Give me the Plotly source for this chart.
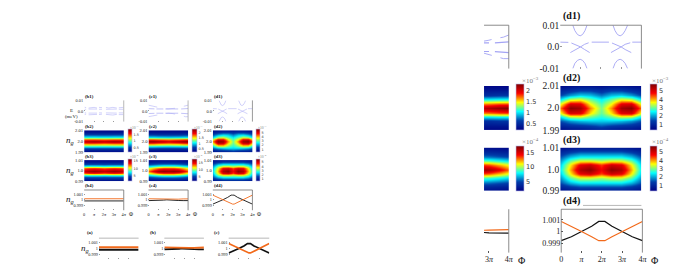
import plotly.graph_objects as go

W, H = 685, 274
SERIF = "Liberation Serif"
SANS = "DejaVu Sans"
GRAY = "#6e6e6e"
BLUE = "#a4a4f4"
ORANGE = "#f26a1b"

# ---- data: x in units of pi ------------------------------------------------
phi_grid = [0, 0.5, 1, 1.5, 2, 2.5, 3, 3.5, 4]
g_2 = [1.99, 1.992, 1.994, 1.996, 1.998, 2.0, 2.002, 2.004, 2.006, 2.008, 2.01]
g_1 = [0.99, 0.992, 0.994, 0.996, 0.998, 1.0, 1.002, 1.004, 1.006, 1.008, 1.01]

z_b2 = [
    [0.15, 0.15, 0.15, 0.15, 0.15, 0.15, 0.15, 0.15, 0.15],
    [0.25, 0.25, 0.25, 0.25, 0.25, 0.25, 0.25, 0.25, 0.25],
    [0.45, 0.45, 0.45, 0.44, 0.44, 0.44, 0.45, 0.45, 0.45],
    [0.85, 0.85, 0.85, 0.84, 0.84, 0.84, 0.85, 0.85, 0.85],
    [1.40, 1.42, 1.42, 1.40, 1.38, 1.40, 1.42, 1.42, 1.40],
    [1.72, 1.76, 1.80, 1.76, 1.72, 1.76, 1.80, 1.76, 1.72],
    [1.40, 1.42, 1.42, 1.40, 1.38, 1.40, 1.42, 1.42, 1.40],
    [0.85, 0.85, 0.85, 0.84, 0.84, 0.84, 0.85, 0.85, 0.85],
    [0.45, 0.45, 0.45, 0.44, 0.44, 0.44, 0.45, 0.45, 0.45],
    [0.25, 0.25, 0.25, 0.25, 0.25, 0.25, 0.25, 0.25, 0.25],
    [0.15, 0.15, 0.15, 0.15, 0.15, 0.15, 0.15, 0.15, 0.15],
]
z_c2 = [
    [0.25, 0.25, 0.25, 0.25, 0.25, 0.25, 0.25, 0.25, 0.25],
    [0.35, 0.35, 0.35, 0.35, 0.35, 0.35, 0.35, 0.35, 0.35],
    [0.55, 0.55, 0.52, 0.52, 0.52, 0.52, 0.52, 0.55, 0.55],
    [1.00, 1.00, 0.98, 0.97, 0.96, 0.97, 0.98, 1.00, 1.00],
    [1.75, 1.74, 1.68, 1.65, 1.62, 1.65, 1.68, 1.74, 1.76],
    [2.20, 2.20, 2.12, 2.06, 2.00, 2.06, 2.12, 2.20, 2.25],
    [1.75, 1.74, 1.68, 1.65, 1.62, 1.65, 1.68, 1.74, 1.76],
    [1.00, 1.00, 0.98, 0.97, 0.96, 0.97, 0.98, 1.00, 1.00],
    [0.55, 0.55, 0.52, 0.52, 0.52, 0.52, 0.52, 0.55, 0.55],
    [0.35, 0.35, 0.35, 0.35, 0.35, 0.35, 0.35, 0.35, 0.35],
    [0.25, 0.25, 0.25, 0.25, 0.25, 0.25, 0.25, 0.25, 0.25],
]
z_d2 = [
    [0.5, 0.6, 0.6, 0.7, 0.8, 0.7, 0.6, 0.6, 0.5],
    [0.9, 1.1, 1.2, 1.3, 1.5, 1.3, 1.2, 1.1, 0.9],
    [1.5, 1.9, 2.1, 2.2, 2.2, 2.2, 2.1, 1.9, 1.5],
    [2.3, 3.2, 3.3, 2.9, 2.6, 2.9, 3.3, 3.2, 2.3],
    [3.5, 5.0, 4.9, 3.7, 2.9, 3.7, 4.9, 5.0, 3.5],
    [4.2, 5.7, 5.5, 4.1, 3.0, 4.1, 5.5, 5.7, 4.2],
    [3.5, 5.0, 4.9, 3.6, 2.8, 3.6, 4.9, 5.0, 3.5],
    [2.3, 3.2, 3.4, 2.9, 2.4, 2.9, 3.4, 3.2, 2.3],
    [1.4, 1.9, 2.2, 2.1, 1.7, 2.1, 2.2, 1.9, 1.4],
    [0.9, 1.1, 1.3, 1.3, 1.1, 1.3, 1.3, 1.1, 0.9],
    [0.5, 0.6, 0.7, 0.7, 0.6, 0.7, 0.7, 0.6, 0.5],
]
z_b3 = [
    [2.0, 2.0, 2.0, 2.0, 2.0, 2.0, 2.0, 2.0, 2.0],
    [3.0, 3.0, 3.0, 3.0, 3.0, 3.0, 3.0, 3.0, 3.0],
    [4.5, 4.6, 4.6, 4.6, 4.5, 4.6, 4.6, 4.6, 4.5],
    [7.5, 7.8, 7.8, 7.7, 7.5, 7.7, 7.8, 7.8, 7.5],
    [12.0, 12.6, 12.8, 12.6, 12.2, 12.6, 12.8, 12.6, 12.0],
    [14.2, 15.0, 15.4, 15.0, 14.6, 15.0, 15.4, 15.0, 14.2],
    [12.0, 12.6, 12.8, 12.6, 12.2, 12.6, 12.8, 12.6, 12.0],
    [7.5, 7.8, 7.8, 7.7, 7.5, 7.7, 7.8, 7.8, 7.5],
    [4.5, 4.6, 4.6, 4.6, 4.5, 4.6, 4.6, 4.6, 4.5],
    [3.0, 3.0, 3.0, 3.0, 3.0, 3.0, 3.0, 3.0, 3.0],
    [2.0, 2.0, 2.0, 2.0, 2.0, 2.0, 2.0, 2.0, 2.0],
]
z_c3 = [
    [2.2, 2.3, 2.4, 2.5, 2.5, 2.5, 2.4, 2.3, 2.2],
    [3.2, 3.4, 3.6, 3.7, 3.7, 3.7, 3.6, 3.4, 3.2],
    [4.8, 5.2, 5.6, 5.8, 5.8, 5.8, 5.6, 5.2, 4.8],
    [7.5, 8.2, 8.8, 9.2, 9.2, 9.2, 8.8, 8.2, 7.5],
    [10.8, 12.0, 13.2, 13.8, 13.8, 13.8, 13.2, 12.0, 10.8],
    [13.0, 15.0, 16.5, 17.0, 16.6, 17.0, 16.5, 15.0, 13.0],
    [10.8, 12.0, 13.2, 13.8, 13.8, 13.8, 13.2, 12.0, 10.8],
    [7.5, 8.2, 8.8, 9.2, 9.2, 9.2, 8.8, 8.2, 7.5],
    [4.8, 5.2, 5.6, 5.8, 5.8, 5.8, 5.6, 5.2, 4.8],
    [3.2, 3.4, 3.6, 3.7, 3.7, 3.7, 3.6, 3.4, 3.2],
    [2.2, 2.3, 2.4, 2.5, 2.5, 2.5, 2.4, 2.3, 2.2],
]
z_d3 = [
    [0.6, 0.7, 0.8, 0.8, 0.8, 0.8, 0.8, 0.7, 0.6],
    [1.0, 1.3, 1.5, 1.5, 1.5, 1.5, 1.5, 1.3, 1.0],
    [1.5, 2.1, 2.4, 2.4, 2.4, 2.4, 2.4, 2.1, 1.5],
    [1.9, 2.9, 3.4, 3.4, 3.2, 3.4, 3.4, 2.9, 1.9],
    [2.2, 3.6, 4.8, 5.0, 4.4, 5.0, 4.8, 3.6, 2.2],
    [2.4, 3.9, 5.3, 5.6, 4.7, 5.6, 5.3, 3.9, 2.4],
    [2.2, 3.6, 4.8, 5.0, 4.4, 5.0, 4.8, 3.6, 2.2],
    [1.9, 2.9, 3.4, 3.4, 3.2, 3.4, 3.4, 2.9, 1.9],
    [1.5, 2.1, 2.4, 2.4, 2.4, 2.4, 2.4, 2.1, 1.5],
    [1.0, 1.3, 1.5, 1.5, 1.5, 1.5, 1.5, 1.3, 1.0],
    [0.6, 0.7, 0.8, 0.8, 0.8, 0.8, 0.8, 0.7, 0.6],
]

# spectra (phi/pi, E); None separates pieces
b1_phi = [0.05, 0.2, None, 0.45, 0.8, 1.0, 1.3, None, 1.5, 1.8, None, 2.2, 2.5, 2.9, 3.3, None, 3.5, 3.95]
b1_up = [0.0035, 0.0032, None, 0.0028, 0.0033, 0.0034, 0.0028, None, 0.0034, 0.0032, None, 0.0033, 0.0028, 0.0034, 0.0028, None, 0.003, 0.0034]
b1_in = [0.0016, 0.0016, None, 0.0018, 0.0018, 0.0016, 0.0018, None, 0.0016, 0.0016, None, 0.0016, 0.0018, 0.0016, 0.0018, None, 0.0016, 0.0016]
b1_lo = [-0.0034, -0.003, None, -0.0036, -0.0036, -0.0038, -0.0032, None, -0.0034, -0.003, None, -0.0032, -0.0036, -0.0038, -0.0032, None, -0.0034, -0.0034]
b1_li = [-0.0018, -0.0018, None, -0.002, -0.002, -0.002, -0.002, None, -0.0018, -0.0018, None, -0.0018, -0.002, -0.002, -0.002, None, -0.0018, -0.0018]

c1_phi = [0, 0.3, 0.7, 1.0, 1.3, 1.6, 2.0, 2.4, 2.75, 3.0, 3.3, 3.73, 4]
c1_up = [0.0055, 0.0048, 0.0038, 0.0030, 0.0023, 0.0021, 0.0020, 0.0021, 0.0026, 0.0031, 0.0038, 0.0045, 0.0055]
c1_lo = [-0.0054, -0.0050, -0.0042, -0.0036, -0.0028, -0.0023, -0.0021, -0.0024, -0.0029, -0.0035, -0.0042, -0.0054, -0.0054]
c1_in_phi = [0, 0.6, None, 0.8, 1.5, None, 1.7, 2.8, 3.0, None, 3.3, 4]
c1_in_up = [0.0022, 0.0020, None, 0.0019, 0.0019, None, 0.0019, 0.0019, 0.0019, None, 0.0019, 0.0023]
c1_in_lo = [-0.0024, -0.0022, None, -0.0021, -0.0021, None, -0.0021, -0.0021, -0.0021, None, -0.0022, -0.0026]

d1_arc_phi = [0.62, 0.72, 0.85, 0.98, 1.1, 1.22, 1.32, None, 2.6, 2.7, 2.82, 2.95, 3.07, 3.2, 3.32]
d1_arc_up = [0.01, 0.0075, 0.0057, 0.0051, 0.0057, 0.0075, 0.01, None, 0.01, 0.0075, 0.0057, 0.0051, 0.0057, 0.0075, 0.01]
d1_arc_lo = [-0.01, -0.0076, -0.0062, -0.0057, -0.0062, -0.0076, -0.01, None, -0.01, -0.0076, -0.0062, -0.0057, -0.0062, -0.0076, -0.01]
d1_mid_phi = [0, 0.4, None, 0.55, 0.8, 1.0, 1.2, 1.45, None, 1.55, 2.4, None, 2.55, 2.8, 3.0, 3.2, 3.5, None, 3.55, 4]
d1_mid_a = [0.0022, 0.0021, None, 0.0018, 0.0009, 0.0, -0.0012, -0.0026, None, 0.0022, 0.0022, None, 0.0018, 0.0009, 0.0, -0.0012, -0.0026, None, 0.0022, 0.0022]
d1_mid_b_phi = [0.5, 0.8, 1.0, 1.2, 1.4, None, 2.5, 2.8, 3.0, 3.2, 3.45]
d1_mid_b = [-0.0026, -0.0012, 0.0, 0.0012, 0.0019, None, -0.0026, -0.0012, 0.0, 0.0012, 0.0019]

# occupation curves
ng_phi = [0, 0.5, 1, 1.5, 1.85, 2, 2.15, 2.5, 3, 3.5, 4]
d4_orange = [1.00086, 1.00045, 1.0, 0.99955, 0.99922, 0.99922, 0.99922, 0.99955, 1.0, 1.00045, 1.00086]
d4_black = [0.99922, 0.99955, 1.0, 1.00045, 1.00086, 1.00086, 1.00086, 1.00045, 1.0, 0.99955, 0.99922]
c4_orange = [1.0002, 1.00017, 1.00015, 1.0001, 1.00005, 1.00005, 1.00005, 1.0001, 1.00012, 1.00017, 1.00017]
c4_black = [0.99986, 0.99986, 0.99988, 0.99995, 1.0, 1.0, 1.0, 0.99995, 0.99988, 0.99986, 0.99986]
b4_orange = [1.0002, 1.0002, 1.0002, 1.0002, 1.0002, 1.0002, 1.0002, 1.0002, 1.0002, 1.0002, 1.0002]
b4_black = [0.9998, 0.9998, 0.9998, 0.9998, 0.9998, 0.9998, 0.9998, 0.9998, 0.9998, 0.9998, 0.9998]

pi_ticks = [0, 1, 2, 3, 4]
pi_labels = ["0", "<i>π</i>", "2<i>π</i>", "3<i>π</i>", "4<i>π</i>"]

# ---- helpers ---------------------------------------------------------------
fig = go.Figure()
layout = dict(width=W, height=H, margin=dict(l=0, r=0, t=0, b=0), autosize=False,
              paper_bgcolor="white", plot_bgcolor="white", showlegend=False,
              annotations=[], shapes=[])
count = [0]


def px(x):
    return x / W


def py(y):
    return 1 - y / H


def axes(x0, x1, y0, y1, xr, yr, xt=None, xl=None, yt=None, yl=None, fs=4.3,
         ticks=True, yticks=True, tc="#9a9a9a"):
    count[0] += 1
    n = count[0]
    layout[f"xaxis{n}"] = dict(domain=[px(x0), px(x1)], range=xr, anchor=f"y{n}",
                               showgrid=False, zeroline=False, showline=False,
                               tickmode="array", tickvals=xt or [], ticktext=xl or [],
                               showticklabels=bool(xl),
                               ticks="inside" if ticks else "", ticklen=1 if fs < 6 else 2,
                               tickwidth=0.5, tickcolor=tc,
                               tickfont=dict(family=SERIF, size=fs, color="#222222"))
    layout[f"yaxis{n}"] = dict(domain=[py(y1), py(y0)], range=yr, anchor=f"x{n}",
                               showgrid=False, zeroline=False, showline=False,
                               tickmode="array", tickvals=yt or [], ticktext=yl or [],
                               showticklabels=bool(yl),
                               ticks="inside" if yticks else "", ticklen=1 if fs < 6 else 2,
                               tickwidth=0.5, tickcolor=tc,
                               tickfont=dict(family=SERIF, size=fs, color="#222222"))
    return f"x{n}", f"y{n}"


def frame(x0, x1, y0, y1, sides, color=GRAY, width=0.8):
    segs = dict(t=(x0, y0, x1, y0), r=(x1, y0, x1, y1), l=(x0, y0, x0, y1), b=(x0, y1, x1, y1))
    for s in sides:
        a, b, c, d = segs[s]
        layout["shapes"].append(dict(type="line", xref="paper", yref="paper",
                                     x0=px(a), y0=py(b), x1=px(c), y1=py(d),
                                     line=dict(color=color, width=width)))


def text(x, y, s, size, family=SERIF, color="#111111", anchor="left"):
    layout["annotations"].append(dict(x=px(x), y=py(y), xref="paper", yref="paper", text=s,
                                      showarrow=False, xanchor=anchor, yanchor="middle",
                                      borderpad=0, font=dict(family=family, size=size, color=color)))


def line(xa, ya, x, y, color, width, dash=None):
    fig.add_trace(go.Scatter(x=x, y=y, xaxis=xa, yaxis=ya, mode="lines", connectgaps=False,
                             hoverinfo="skip", line=dict(color=color, width=width, dash=dash)))


def heat(xa, ya, y, z, zmin, zmax, bx0, bx1, by0, by1, tv, tl, tfs):
    fig.add_trace(go.Heatmap(x=phi_grid, y=y, z=z, xaxis=xa, yaxis=ya, zmin=zmin, zmax=zmax,
                             colorscale="Jet", zsmooth="best", hoverinfo="skip",
                             colorbar=dict(x=px(bx0), xanchor="left", xpad=0, ypad=0,
                                           y=py(by1), yanchor="bottom",
                                           lenmode="pixels", len=by1 - by0,
                                           thicknessmode="pixels", thickness=bx1 - bx0,
                                           tickmode="array", tickvals=tv, ticktext=tl,
                                           ticks="", outlinecolor="#b9b9e6", outlinewidth=0.6,
                                           tickfont=dict(family=SANS, size=tfs, color="#333333"))))


def spectrum_b(xa, ya, w):
    for e in (b1_up, b1_in, b1_lo, b1_li):
        line(xa, ya, b1_phi, e, BLUE, w)


def spectrum_c(xa, ya, w):
    line(xa, ya, c1_phi, c1_up, BLUE, w, "dash")
    line(xa, ya, c1_phi, c1_lo, BLUE, w, "dash")
    line(xa, ya, c1_in_phi, c1_in_up, BLUE, w * 1.3)
    line(xa, ya, c1_in_phi, c1_in_lo, BLUE, w * 1.3)


def spectrum_d(xa, ya, w):
    line(xa, ya, d1_arc_phi, d1_arc_up, BLUE, w)
    line(xa, ya, d1_arc_phi, d1_arc_lo, BLUE, w)
    line(xa, ya, d1_mid_phi, d1_mid_a, BLUE, w)
    line(xa, ya, d1_mid_b_phi, d1_mid_b, BLUE, w)


E_t = [-0.01, 0, 0.01]
E_l = ["-0.01", "0.0", "0.01"]
g2_t = [1.99, 2.0, 2.01]
g2_l = ["1.99", "2.0", "2.01"]
g1_t = [0.99, 1.0, 1.01]
g1_l = ["0.99", "1.0", "1.01"]
n_t = [0.999, 1, 1.001]
n_l = ["0.999", "1", "1.001"]
SCALE = [0.9981, 1.0018]

# ---- small figure ----------------------------------------------------------
cols = [(83, 123, 127, 131, "b"), (148, 188, 192, 197, "c"), (213, 253, 257, 261, "d")]
specs = dict(b=spectrum_b, c=spectrum_c, d=spectrum_d)
h2 = dict(b=(z_b2, 0.1, 1.9, [0.5, 1, 1.5], ["0.5", "1", "1.5"]),
          c=(z_c2, 0.2, 2.27, [0.5, 1, 1.5, 2], ["0.5", "1", "1.5", "2"]),
          d=(z_d2, 0.28, 5.8, [1, 2, 3, 4, 5], ["1", "2", "3", "4", "5"]))
h3 = dict(b=(z_b3, 1.5, 16, [5, 10, 15], ["5", "10", "15"]),
          c=(z_c3, 1.6, 17.5, [5, 10, 15], ["5", "10", "15"]),
          d=(z_d3, 0.32, 5.72, [1, 2, 3, 4, 5], ["1", "2", "3", "4", "5"]))
curves = dict(b=(b4_black, b4_orange), c=(c4_black, c4_orange), d=(d4_black, d4_orange))

for x0, x1, bx0, bx1, k in cols:
    xa, ya = axes(x0, x1, 99, 121, [0, 4], [-0.01, 0.01], xt=pi_ticks, yt=E_t, yl=E_l, fs=4.3)
    specs[k](xa, ya, 0.5)
    frame(x0, x1, 99, 121, "r", "#9a9a9a" if k != "d" else GRAY, 0.7)
    text(x0, 94.5, f"<b>({k}1)</b>", 4.8)

    z, a, b, tv, tl = h2[k]
    xa, ya = axes(x0, x1, 130, 153, [0, 4], [1.99, 2.01], yt=g2_t, yl=g2_l, fs=4.6, ticks=False, yticks=False)
    heat(xa, ya, g_2, z, a, b, bx0, bx1, 130, 153, tv, tl, 3.4)
    text(x0, 126, f"<b>({k}2)</b>", 4.8)
    text(bx0 + 1, 127, "×10<sup>−3</sup>", 3.6, color="#777777")

    z, a, b, tv, tl = h3[k]
    xa, ya = axes(x0, x1, 161, 183, [0, 4], [0.99, 1.01], yt=g1_t, yl=g1_l, fs=4.6, ticks=False, yticks=False)
    heat(xa, ya, g_1, z, a, b, bx0, bx1, 161, 183, tv, tl, 3.4)
    text(x0, 157, f"<b>({k}3)</b>", 4.8)
    text(bx0 + 1, 157.5, "×10<sup>−4</sup>", 3.6, color="#777777")

    xa, ya = axes(x0, x1, 192, 213, [0, 4], SCALE, xt=pi_ticks, xl=pi_labels, yt=n_t, yl=n_l, fs=4.3)
    bl, org = curves[k]
    line(xa, ya, ng_phi, bl, "#111111", 0.9)
    line(xa, ya, ng_phi, org, ORANGE, 0.9)
    frame(x0, x1, 192, 213, "tr")
    text(x0, 187, f"<b>({k}4)</b>", 4.8)
    text(x1 + 7, 216.5, "Φ", 5.5, anchor="center")

text(70, 110, "E", 5, anchor="center")
text(70, 116, "(meV)", 4.8, anchor="center")
for yy in (140.5, 171.5, 201.5):
    text(68.5, yy, "<i>n<sub>g</sub></i>", 9, anchor="center")

# panels (a), (b), (c)
for x0, x1, lab, lx, k, w in [(98, 138, "(a)", 85, "b", 2.0), (164, 204, "(b)", 149, "c", 1.8), (229, 270, "(c)", 213, "d", 1.7)]:
    xa, ya = axes(x0, x1, 242, 264, [0, 4], SCALE, xt=pi_ticks, yt=n_t, yl=n_l, fs=4.3)
    bl, org = curves[k]
    line(xa, ya, ng_phi, bl, "#111111", w)
    line(xa, ya, ng_phi, org, ORANGE, w)
    frame(x0, x1, 242, 264, "t", "#9a9a9a", 0.7)
    text(lx, 236, f"<b>{lab}</b>", 4.8)
text(83.5, 252.5, "<i>n<sub>g</sub></i>", 9, anchor="center")

# ---- enlarged figure: cropped (c) column ------------------------------------
CR = [2.75, 4]
xa, ya = axes(487, 512, 21, 66, CR, [-0.01, 0.01], ticks=False, yticks=False)
spectrum_c(xa, ya, 0.9)
frame(487, 512, 21, 66, "tr")

xa, ya = axes(487, 512, 84, 130, CR, [1.99, 2.01], ticks=False, yticks=False)
heat(xa, ya, g_2, z_c2, 0.2, 2.27, 519, 527, 84, 130, [0.5, 1, 1.5, 2], ["0.5", "1", "1.5", "2"], 6.5)
text(524, 78, "×10<sup>−3</sup>", 7, color="#777777")

xa, ya = axes(487, 512, 148, 193, CR, [0.99, 1.01], ticks=False, yticks=False)
heat(xa, ya, g_1, z_c3, 1.6, 17.5, 519, 527, 148, 193, [5, 10, 15], ["5", "10", "15"], 6.5)
text(524, 142, "×10<sup>−4</sup>", 7, color="#777777")

xa, ya = axes(487, 512, 212, 257, CR, [0.9982, 1.0019], xt=[3, 4], xl=pi_labels[3:], fs=8, yticks=False, tc="#555555")
line(xa, ya, ng_phi, c4_black, "#111111", 1.2)
line(xa, ya, ng_phi, c4_orange, ORANGE, 1.2)
frame(487, 512, 212, 257, "r")
text(525, 265, "Φ", 10, anchor="center")

# ---- enlarged figure: (d) column --------------------------------------------
xa, ya = axes(564, 646, 21, 66, [0, 4], [-0.01, 0.01], xt=pi_ticks, yt=E_t, yl=E_l, fs=9.5)
spectrum_d(xa, ya, 0.9)
frame(564, 646, 21, 66, "tr")
text(566, 11.5, "<b>(d1)</b>", 10)

xa, ya = axes(564, 646, 84, 130, [0, 4], [1.99, 2.01], yt=g2_t, yl=g2_l, fs=9.5, ticks=False, yticks=False)
heat(xa, ya, g_2, z_d2, 0.28, 5.8, 655, 662, 84, 130, [1, 2, 3, 4, 5], ["1", "2", "3", "4", "5"], 6.5)
text(566, 75.5, "<b>(d2)</b>", 10)
text(656, 78, "×10<sup>−3</sup>", 7, color="#777777")

xa, ya = axes(564, 646, 148, 193, [0, 4], [0.99, 1.01], yt=g1_t, yl=g1_l, fs=9.5, ticks=False, yticks=False)
heat(xa, ya, g_1, z_d3, 0.32, 5.72, 655, 662, 148, 193, [1, 2, 3, 4, 5], ["1", "2", "3", "4", "5"], 6.5)
text(566, 140, "<b>(d3)</b>", 10)
text(656, 142, "×10<sup>−4</sup>", 7, color="#777777")

xa, ya = axes(565, 647, 212, 257, [0, 4], [0.9982, 1.0019], xt=pi_ticks, xl=pi_labels, yt=n_t, yl=n_l, fs=8, tc="#555555")
line(xa, ya, ng_phi, d4_black, "#111111", 1.2)
line(xa, ya, ng_phi, d4_orange, ORANGE, 1.2)
frame(565, 647, 212, 257, "tlr")
frame(587, 646, 208, 208, "t", "#9a9a9a", 0.7)
text(566, 203, "<b>(d4)</b>", 10)
text(659, 265, "Φ", 10, anchor="center")

fig.update_layout(**layout)
fig.write_html("out.html", config=dict(displayModeBar=False),
               post_script="document.body.style.margin='0';document.documentElement.style.overflow='hidden';")
